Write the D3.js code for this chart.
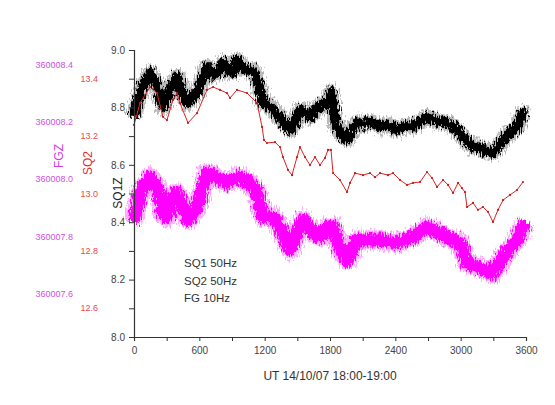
<!DOCTYPE html>
<html>
<head>
<meta charset="utf-8">
<script src="https://cdn.jsdelivr.net/npm/d3@7"></script>
<style>
  body{margin:0;background:#fff;}
  svg{display:block;font-family:"Liberation Sans",Arial,sans-serif;}
</style>
</head>
<body>
<svg></svg>
<script>
// 데이터: 시간(sec), 값
const sq1_t = [0,28,83,147,211,266,331,395,441,487,533,579,624,670,716,762,817,863,909,946,
  992,1038,1084,1130,1185,1231,1277,1341,1387,1433,1479,1524,1570,1616,1662,1708,1754,1791,1809,1828,
  1855,1892,1956,2002,2048,2103,2167,2259,2333,2415,2488,2562,2627,2691,2746,2810,2874,2948,3021,3067,
  3113,3178,3242,3297,3343,3389,3453,3517,3572,3600];
const sq1_v = [8.764,8.816,8.878,8.920,8.878,8.802,8.861,8.906,8.854,8.816,
  8.833,8.851,8.896,8.941,8.913,8.920,8.955,8.924,8.924,8.965,
  8.938,8.931,8.931,8.896,8.816,8.809,8.792,8.764,8.740,8.722,
  8.750,8.792,8.781,8.767,8.792,8.802,8.816,8.826,8.854,8.802,
  8.740,8.712,8.688,8.722,8.747,8.740,8.750,8.733,8.740,8.722,
  8.736,8.733,8.750,8.767,8.757,8.750,8.747,8.729,8.698,8.677,
  8.663,8.660,8.646,8.642,8.663,8.688,8.712,8.733,8.781,8.774];

const sq2_t = [0,55,147,211,266,303,358,395,422,496,579,670,726,790,854,882,946,1038,1130,
  1176,1194,1221,1295,1341,1368,1414,1451,1497,1524,1570,1616,1662,1708,1754,1782,1809,1828,1892,1956,
  1984,2030,2103,2167,2213,2259,2333,2379,2443,2507,2562,2627,2691,2737,2783,2838,2884,2930,2976,3012,
  3040,3058,3113,3159,3205,3251,3297,3343,3389,3453,3517,3572];
const sq2_v = [13.239,13.315,13.371,13.350,13.267,13.256,13.326,13.350,13.315,13.246,
  13.280,13.361,13.371,13.361,13.350,13.333,13.361,13.350,13.315,
  13.232,13.186,13.176,13.179,13.162,13.127,13.082,13.064,13.127,13.162,
  13.127,13.099,13.127,13.099,13.124,13.152,13.152,13.071,13.047,13.005,
  13.037,13.071,13.064,13.071,13.057,13.071,13.064,13.071,13.047,13.030,
  13.037,13.040,13.075,13.054,13.023,13.047,13.030,13.002,13.037,13.019,
  13.005,12.953,12.967,12.943,12.953,12.936,12.901,12.943,12.977,12.995,
  13.012,13.040];

const fg_t = [0,55,147,211,266,303,358,395,422,496,579,670,762,854,946,1038,1130,1185,1277,1341,
  1433,1497,1552,1644,1708,1772,1828,1892,1956,2048,2259,2415,2562,2691,2874,2994,3058,3150,3297,3389,
  3517,3572,3600];
const fg_v = [360007.850,360007.952,360008.007,360007.973,360007.882,360007.868,360007.945,360007.952,360007.927,360007.858,
  360007.903,360008.021,360008.007,360007.987,360008.007,360007.997,360007.952,360007.868,360007.868,360007.833,
  360007.753,360007.812,360007.858,360007.812,360007.798,360007.833,360007.833,360007.753,360007.718,360007.788,
  360007.788,360007.778,360007.798,360007.833,360007.798,360007.778,360007.708,360007.694,360007.673,360007.729,
  360007.788,360007.833,360007.851];

const x_ticks = [0,600,1200,1800,2400,3000,3600];
const sq1_ticks = [8.0,8.2,8.4,8.6,8.8,9.0];
const sq2_ticks = [12.6,12.8,13.0,13.2,13.4];
const fg_ticks = [360007.6,360007.8,360008.0,360008.2,360008.4];
const legend_lines = ['SQ1 50Hz','SQ2 50Hz','FG 10Hz'];

const W = 555, H = 405;
const m = {left:134, top:50, right:29, bottom:68};
const pw = W - m.left - m.right, ph = H - m.top - m.bottom;

const svg = d3.select('svg').attr('width',W).attr('height',H);

// 밴드 가장자리 거칠게 (스타일 효과)
const defs = svg.append('defs');
function fuzz(id,freq,scale){
  const f = defs.append('filter').attr('id',id)
    .attr('x','-5%').attr('y','-20%').attr('width','110%').attr('height','140%');
  f.append('feTurbulence').attr('type','fractalNoise').attr('baseFrequency',freq)
    .attr('numOctaves',2).attr('seed',3).attr('result','n');
  f.append('feDisplacementMap').attr('in','SourceGraphic').attr('in2','n')
    .attr('scale',scale).attr('xChannelSelector','R').attr('yChannelSelector','G');
}
fuzz('fz_k','0.8 0.2',12);
fuzz('fz_m','0.8 0.2',12);

const g = svg.append('g').attr('transform','translate('+m.left+','+m.top+')');

const x_scale = d3.scaleLinear().domain([0,3600]).range([0,pw]);
const y_sq1 = d3.scaleLinear().domain([8.0,9.0]).range([ph,0]);
const y_sq2 = d3.scaleLinear().domain([12.5,13.5]).range([ph,0]);
const y_fg = d3.scaleLinear().domain([360007.45,360008.45]).range([ph,0]);

function zip(ts,vs){ return ts.map((t,i)=>[t,vs[i]]); }
function draw_path(sc,data,color,width,op,filt){
  const line = d3.line().x(d=>x_scale(d[0])).y(d=>sc(d[1]));
  const p = g.append('path').datum(data).attr('d',line)
    .attr('fill','none').attr('stroke',color).attr('stroke-width',width)
    .attr('stroke-opacity',op).attr('stroke-linejoin','round');
  if(filt) p.attr('filter','url(#'+filt+')');
  return p;
}

// FG (magenta band)
const fg_data = zip(fg_t,fg_v);
draw_path(y_fg,fg_data,'#ff55ff',19,0.5,'fz_m');
draw_path(y_fg,fg_data,'#ff00ff',13,1,'fz_m');

// SQ1 (black band)
const sq1_data = zip(sq1_t,sq1_v);
draw_path(y_sq1,sq1_data,'#555',16,0.4,'fz_k');
draw_path(y_sq1,sq1_data,'#000',10,1,'fz_k');

// SQ2 (red line with dots)
const sq2_data = zip(sq2_t,sq2_v);
draw_path(y_sq2,sq2_data,'#e02020',1,1,null);
g.append('g').selectAll('circle').data(sq2_data).enter().append('circle')
  .attr('cx',d=>x_scale(d[0])).attr('cy',d=>y_sq2(d[1])).attr('r',1.1).attr('fill','#c01818');

// axes
const x_axis = g.append('g').attr('transform','translate(0,'+ph+')')
  .call(d3.axisBottom(x_scale).tickValues(d3.range(0,3601,300)).tickSize(4).tickPadding(6)
    .tickFormat(d=> x_ticks.includes(d) ? d : ''));
const y_axis = g.append('g')
  .call(d3.axisLeft(y_sq1).tickValues(d3.range(0,11).map(i=>8+i/10)).tickSize(5).tickPadding(4)
    .tickFormat(d=> sq1_ticks.some(v=>Math.abs(v-d)<1e-6) ? d3.format('.1f')(d) : ''));
[x_axis,y_axis].forEach(a=>{
  a.select('.domain').attr('stroke','#333').attr('stroke-width',1.2);
  a.selectAll('.tick line').attr('stroke','#333');
  a.selectAll('.tick text').attr('font-size',10).attr('fill','#444');
});

// 보조 축 라벨 (축선 없음)
function side_labels(sc,ticks,xr,color,fmt,size){
  g.append('g').selectAll('text').data(ticks).enter().append('text')
    .attr('x',xr).attr('y',d=>sc(d)).attr('dy','0.35em').attr('text-anchor','end')
    .attr('font-size',size).attr('fill',color).text(d=>fmt(d));
}
side_labels(y_sq2,sq2_ticks,98-m.left,'#e84a4a',d3.format('.1f'),9);
side_labels(y_fg,fg_ticks,73-m.left,'#d050e0',d3.format('.1f'),9);

// axis titles
function vtitle(x,y,text,color){
  svg.append('text').attr('transform','translate('+x+','+y+') rotate(-90)')
    .attr('text-anchor','middle').attr('dy','0.35em').attr('font-size',12)
    .attr('fill',color).text(text);
}
vtitle(118,193,'SQ1Z','#222');
vtitle(88,163,'SQ2','#e03030');
vtitle(59,156,'FGZ','#d040e0');

svg.append('text').attr('x',330).attr('y',376).attr('dy','0.35em')
  .attr('text-anchor','middle').attr('font-size',12).attr('fill','#333')
  .text('UT 14/10/07 18:00-19:00');

// legend
svg.append('g').selectAll('text').data(legend_lines).enter().append('text')
  .attr('x',184).attr('y',(d,i)=>263+i*17.5).attr('dy','0.35em')
  .attr('font-size',11.5).attr('fill','#333').text(d=>d);
</script>
</body>
</html>
